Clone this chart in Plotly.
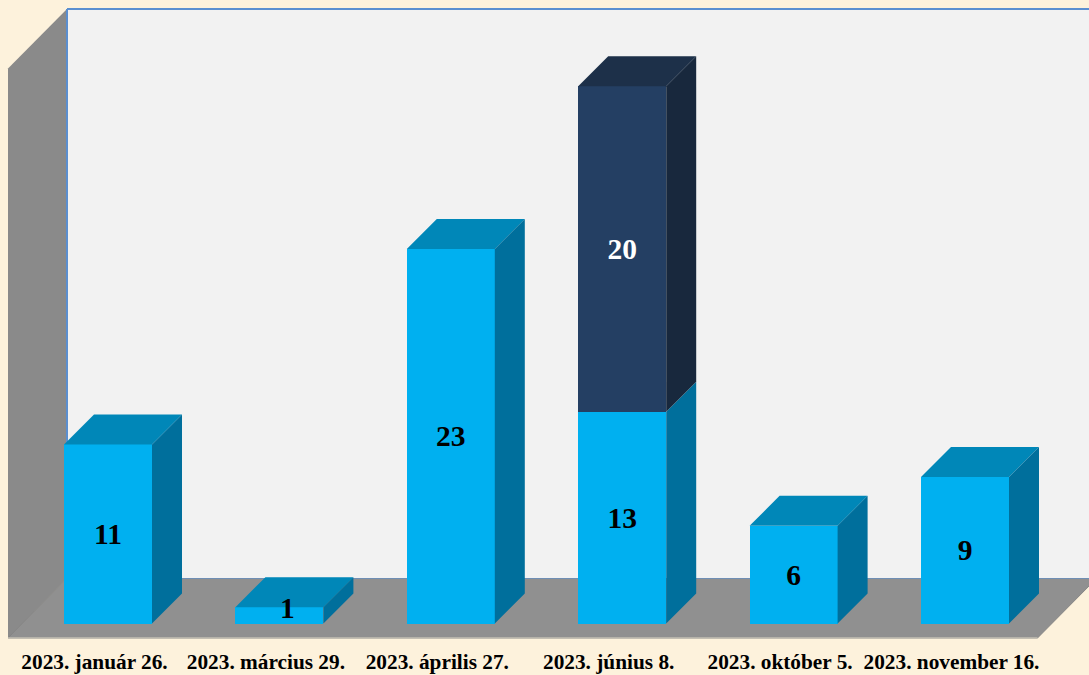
import plotly.graph_objects as go

categories = ["2023. január 26.", "2023. március 29.", "2023. április 27.",
              "2023. június 8.", "2023. október 5.", "2023. november 16."]
series_a = [11, 1, 23, 13, 6, 9]
series_b = [0, 0, 0, 20, 0, 0]

# layout scale
W, H = 1089, 675
PLOT_BOTTOM = 641
PX_PER_CAT = 171.4
PX_PER_UNIT = 16.28
CAT0_PX = 108
BASE_PX = 623.5
BAR_W = 88 / PX_PER_CAT
DX = 30 / PX_PER_CAT
DY = 30 / PX_PER_UNIT
TICK_SHIFT = -13.5 / PX_PER_CAT
LABEL_DROP = 2.5 / PX_PER_UNIT

# frame (wall and floor) in axis units
WALL_X = -100 / PX_PER_CAT
WALL_DX = 59 / PX_PER_CAT
WALL_DY = 59.5 / PX_PER_UNIT
FLOOR_Y = -14.5 / PX_PER_UNIT
BACK_TOP = 614.5 / PX_PER_UNIT
FLOOR_RIGHT = 929.5 / PX_PER_CAT

BLUE = ("#00b0f0", "#0087b8", "#006f9c")
NAVY = ("#243f63", "#1d3049", "#18283d")

x_idx = list(range(len(categories)))


def poly(pts):
    return "M" + " L".join(f"{x},{y}" for x, y in pts) + " Z"


back_l = WALL_X + WALL_DX
back_y = FLOOR_Y + WALL_DY
shapes = [
    dict(type="path", layer="below", line_width=0, fillcolor="#f2f2f2",
         path=poly([(back_l, back_y), (back_l, BACK_TOP), (FLOOR_RIGHT + WALL_DX, BACK_TOP), (FLOOR_RIGHT + WALL_DX, back_y)])),
    dict(type="path", layer="below", line_width=0, fillcolor="#8a8a8a",
         path=poly([(WALL_X, FLOOR_Y), (WALL_X, BACK_TOP - WALL_DY), (back_l, BACK_TOP), (back_l, back_y)])),
    dict(type="path", layer="below", fillcolor="#909090", line=dict(color="#858585", width=1),
         path=poly([(WALL_X, FLOOR_Y), (back_l, back_y), (FLOOR_RIGHT + WALL_DX, back_y), (FLOOR_RIGHT, FLOOR_Y)])),
    dict(type="line", layer="below", x0=back_l, x1=back_l, y0=back_y, y1=BACK_TOP, line=dict(color="#5b8fd0", width=2)),
    dict(type="line", layer="below", x0=back_l, x1=FLOOR_RIGHT + WALL_DX, y0=BACK_TOP, y1=BACK_TOP, line=dict(color="#5b8fd0", width=2)),
    dict(type="line", layer="below", x0=back_l, x1=FLOOR_RIGHT + WALL_DX, y0=back_y, y1=back_y, line=dict(color="#6f8fb5", width=1)),
    dict(type="line", layer="below", x0=WALL_X, x1=FLOOR_RIGHT, y0=FLOOR_Y, y1=FLOOR_Y, line=dict(color="#c4c0b4", width=1.5)),
]

fig = go.Figure()


def add_front(vals, colour):
    fig.add_trace(go.Bar(x=x_idx, y=vals, width=BAR_W, marker=dict(color=colour, line_width=0), hoverinfo="skip"))


def add_faces(lower, heights, colours, draw_top):
    side_x, side_y, top_x, top_y = [], [], [], []
    for i, lo, h in zip(x_idx, lower, heights):
        if h == 0:
            continue
        xr = i + BAR_W / 2
        xl = i - BAR_W / 2
        hi = lo + h
        side_x += [xr, xr + DX, xr + DX, xr, xr, None]
        side_y += [lo, lo + DY, hi + DY, hi, lo, None]
        if draw_top[i]:
            top_x += [xl, xl + DX, xr + DX, xr, xl, None]
            top_y += [hi, hi + DY, hi + DY, hi, hi, None]
    for xs, ys, c in ((top_x, top_y, colours[1]), (side_x, side_y, colours[2])):
        fig.add_trace(go.Scatter(x=xs, y=ys, mode="lines", fill="toself", fillcolor=c,
                                 line=dict(width=0, color=c), hoverinfo="skip"))


add_front(series_a, BLUE[0])
add_front(series_b, NAVY[0])
add_faces([0] * len(series_a), series_a, BLUE, [b == 0 for b in series_b])
add_faces(series_a, series_b, NAVY, [True] * len(series_b))

# value labels
lab_x, lab_y, lab_t, lab_c = [], [], [], []
for i, a, b in zip(x_idx, series_a, series_b):
    small = a < 2
    lab_x.append(i + (8 / PX_PER_CAT if small else 0))
    lab_y.append(a / 2 - LABEL_DROP + (7 / PX_PER_UNIT if small else 0))
    lab_t.append(str(a))
    lab_c.append("#000000")
    if b:
        lab_x.append(i)
        lab_y.append(a + b / 2 - LABEL_DROP)
        lab_t.append(str(b))
        lab_c.append("#ffffff")
fig.add_trace(go.Scatter(x=lab_x, y=lab_y, text=lab_t, mode="text",
                         textfont=dict(family="Liberation Serif", size=29.5, color=lab_c, weight="bold"),
                         textposition="middle center", hoverinfo="skip"))

fig.update_layout(
    width=W, height=H, autosize=False, barmode="stack", showlegend=False,
    margin=dict(l=0, r=0, t=0, b=H - PLOT_BOTTOM, pad=0),
    paper_bgcolor="#fdf2dc", plot_bgcolor="rgba(0,0,0,0)", shapes=shapes,
    xaxis=dict(range=[-CAT0_PX / PX_PER_CAT, (W - CAT0_PX) / PX_PER_CAT],
               tickvals=[i + TICK_SHIFT for i in x_idx], ticktext=categories,
               tickfont=dict(family="Liberation Serif", size=21.3, color="#000000", weight="bold"),
               ticks="outside", ticklen=1, tickcolor="rgba(0,0,0,0)",
               showgrid=False, zeroline=False, showline=False, fixedrange=True, automargin=False),
    yaxis=dict(range=[(BASE_PX - PLOT_BOTTOM) / PX_PER_UNIT, BASE_PX / PX_PER_UNIT],
               visible=False, showgrid=False, zeroline=False, fixedrange=True),
)
fig.write_html("out.html", config=dict(displayModeBar=False),
               post_script="document.body.style.margin='0';document.body.style.background='#fdf2dc';")
